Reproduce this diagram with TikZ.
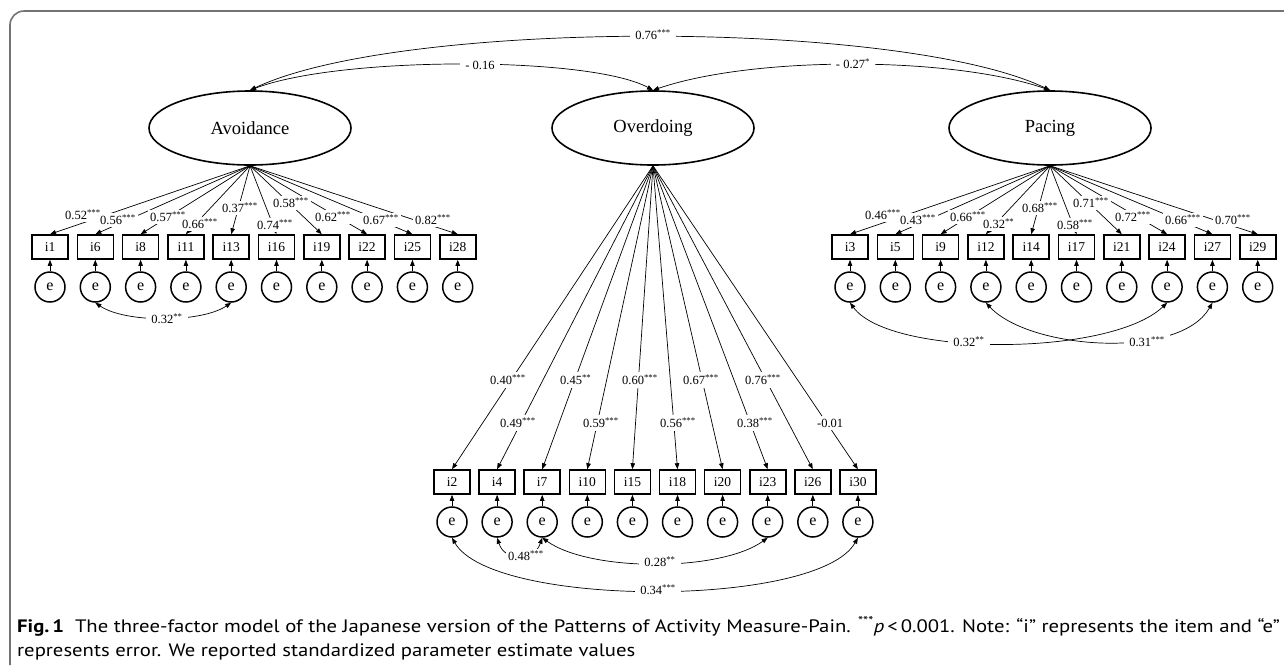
\documentclass[tikz,border=0pt]{standalone}
\usepackage{fontspec}
\setmainfont{Liberation Serif}
\newfontfamily\capfont[FakeStretch=1.15]{PT Sans}
\usetikzlibrary{arrows.meta,shapes.geometric}
\begin{document}
\begin{tikzpicture}[x=1pt,y=-1pt,
  lat/.style={ellipse, draw, line width=1.6pt, minimum width=202pt, minimum height=74pt, inner sep=0pt, font=\fontsize{18.5}{20}\selectfont},
  item/.style={rectangle, draw, line width=1.6pt, minimum width=36pt, minimum height=24pt, inner sep=0pt, font=\fontsize{13.5}{14}\selectfont},
  err/.style={circle, draw, line width=1.5pt, minimum size=30pt, inner sep=0pt, font=\fontsize{16}{16}\selectfont},
  ld/.style={line width=0.7pt, -{Triangle[length=6pt,width=4.5pt]}},
  cov/.style={line width=0.7pt, {Triangle[length=6pt,width=4.5pt]}-{Triangle[length=6pt,width=4.5pt]}},
  lab/.style={fill=white, inner xsep=2pt, inner ysep=1.5pt, anchor=west, font=\fontsize{12.5}{13}\selectfont},
  dlab/.style={fill=white, inner xsep=5pt, inner ysep=2pt, font=\fontsize{12.5}{13}\selectfont},
  capt/.style={anchor=base west, inner sep=0pt, font=\capfont\fontsize{18}{22}\selectfont}
]
\useasboundingbox (0,0) rectangle (1284,665);
% frame
\draw[line width=1.6pt, color=black!55, rounded corners=14pt] (10,665) -- (10,11) -- (1284,11);

% latent factors
\node[lat] (A) at (250,128) {Avoidance};
\node[lat] (O) at (653,128) {Overdoing};
\node[lat] (P) at (1050,128) {Pacing};

% Avoidance items
\foreach \n [count=\k from 0] in {1,6,8,11,13,16,19,22,25,28} {
  \node[item] (i\n) at ({50+45.3*\k},247) {i\n};
  \node[err] (e\n) at ({50+45.3*\k},287) {e};
  \draw[ld] (e\n) -- (i\n);
  \draw[ld] (A.south) -- (i\n.north);
}
% Pacing items
\foreach \n [count=\k from 0] in {3,5,9,12,14,17,21,24,27,29} {
  \node[item] (i\n) at ({850+45.3*\k},247) {i\n};
  \node[err] (e\n) at ({850+45.3*\k},287) {e};
  \draw[ld] (e\n) -- (i\n);
  \draw[ld] (P.south) -- (i\n.north);
}
% Overdoing items
\foreach \n [count=\k from 0] in {2,4,7,10,15,18,20,23,26,30} {
  \node[item] (i\n) at ({452+45.1*\k},482) {i\n};
  \node[err] (e\n) at ({452+45.1*\k},522) {e};
  \draw[ld] (e\n) -- (i\n);
  \draw[ld] (O.south) -- (i\n.north);
}

% factor covariances
\draw[cov] (A.north) .. controls (400,19) and (900,19) .. (P.north);
\draw[cov] (A.north) .. controls (340,56) and (590,56) .. (O.north);
\draw[cov] (O.north) .. controls (753,56) and (950,56) .. (P.north);
\node[dlab] (c76) at (653,35) {0.76\textsuperscript{***}};
\node[dlab] (c16) at (480,65) {- 0.16};
\node[dlab] (c27) at (853,64) {- 0.27\textsuperscript{*}};

% error covariances
\draw[cov] (e6.south) .. controls (125,323) and (201,323) .. (e13.south);
\node[dlab] (d1) at (167,319) {0.32\textsuperscript{**}};
\draw[cov] (e3.south) .. controls (890,357) and (1110,357) .. (e24.south);
\node[dlab] (d2) at (969,342) {0.32\textsuperscript{**}};
\draw[cov] (e12.south) .. controls (1030,350) and (1180,360) .. (e27.south);
\node[dlab] (d3) at (1147,342) {0.31\textsuperscript{***}};
\draw[cov] (e4.south) .. controls (505,562) and (534,562) .. (e7.south);
\node[lab] (d4) at (506,556) {0.48\textsuperscript{***}};
\draw[cov] (e7.south) .. controls (590,572) and (720,572) .. (e23.south);
\node[dlab] (d5) at (660,562) {0.28\textsuperscript{**}};
\draw[cov] (e2.south) .. controls (492,608) and (818,608) .. (e30.south);
\node[dlab] (d6) at (658,590) {0.34\textsuperscript{***}};

% Avoidance loadings
\node[lab] at (63,215) {0.52\textsuperscript{***}};
\node[lab] at (98,220) {0.56\textsuperscript{***}};
\node[lab] at (148,217) {0.57\textsuperscript{***}};
\node[lab] at (180,224) {0.66\textsuperscript{***}};
\node[lab] at (220,208) {0.37\textsuperscript{***}};
\node[lab] at (255,225) {0.74\textsuperscript{***}};
\node[lab] at (271,203) {0.58\textsuperscript{***}};
\node[lab] at (313,217) {0.62\textsuperscript{***}};
\node[lab] at (361,220) {0.67\textsuperscript{***}};
\node[lab] at (413,220) {0.82\textsuperscript{***}};
% Pacing loadings
\node[lab] at (863,215) {0.46\textsuperscript{***}};
\node[lab] at (898,220) {0.43\textsuperscript{***}};
\node[lab] at (948,217) {0.66\textsuperscript{***}};
\node[lab] at (981,224) {0.32\textsuperscript{**}};
\node[lab] at (1020,208) {0.68\textsuperscript{***}};
\node[lab] at (1055,225) {0.58\textsuperscript{***}};
\node[lab] at (1071,203) {0.71\textsuperscript{***}};
\node[lab] at (1113,217) {0.72\textsuperscript{***}};
\node[lab] at (1163,220) {0.66\textsuperscript{***}};
\node[lab] at (1213,220) {0.70\textsuperscript{***}};
% Overdoing loadings
\node[lab, inner ysep=3pt] at (488,380) {0.40\textsuperscript{***}};
\node[lab, inner ysep=3pt] at (498,423) {0.49\textsuperscript{***}};
\node[lab, inner ysep=3pt] at (558,380) {0.45\textsuperscript{**}};
\node[lab, inner ysep=3pt] at (581,423) {0.59\textsuperscript{***}};
\node[lab, inner ysep=3pt] at (620,380) {0.60\textsuperscript{***}};
\node[lab, inner ysep=3pt] at (658,423) {0.56\textsuperscript{***}};
\node[lab, inner ysep=3pt] at (681,380) {0.67\textsuperscript{***}};
\node[lab, inner ysep=3pt] at (735,423) {0.38\textsuperscript{***}};
\node[lab, inner ysep=3pt] at (743,380) {0.76\textsuperscript{***}};
\node[lab, inner ysep=3pt] at (815,423) {-0.01};

% caption
\node[capt] (cap1) at (17,632) {\textbf{Fig.\,1}\hspace{0.6em}The three-factor model of the Japanese version of the Patterns of Activity Measure-Pain. \textsuperscript{***}\textit{p}\,<\,0.001. Note: “i” represents the item and “e”};
\node[capt] (cap2) at (17,656) {represents error. We reported standardized parameter estimate values};
\end{tikzpicture}
\end{document}
